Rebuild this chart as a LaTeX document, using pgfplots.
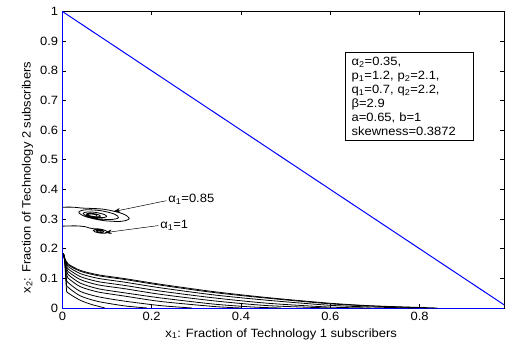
\documentclass[border=0pt]{standalone}
\usepackage{fontspec}
\setmainfont{Liberation Sans}[FakeStretch=1.08]
\usepackage{pgfplots}
\pgfplotsset{compat=1.18}
\usetikzlibrary{arrows.meta}
\begin{document}
\fontsize{12bp}{14bp}\selectfont
\begin{tikzpicture}
\useasboundingbox (-62.4bp,-37bp) rectangle (442.6bp,308bp);
\begin{axis}[
  scale only axis, width=442bp, height=296.5bp,
  xmin=0, xmax=0.99, ymin=0, ymax=1,
  xtick={0,0.2,0.4,0.6,0.8},
  ytick={0,0.1,0.2,0.3,0.4,0.5,0.6,0.7,0.8,0.9,1},
  tick align=inside, major tick length=4bp,
  tick style={black, line width=0.5bp},
  axis line style={line width=0.6bp},
  /pgf/number format/assume math mode=true,
  tick label style={font=\fontsize{12bp}{14bp}\selectfont},
  xlabel={x\textsubscript{1}: Fraction of Technology 1 subscribers},
  ylabel={x\textsubscript{2}: Fraction of Technology 2 subscribers},
  xlabel style={at={(axis description cs:0.495,-0.088)}, anchor=center},
  ylabel style={at={(axis description cs:-0.079,0.44)}, anchor=center},
  clip=false,
]
% blue boundary lines
\addplot[blue, line width=1bp] coordinates {(0,1) (0.99,0.01)};
\addplot[blue, line width=1bp] coordinates {(0,0) (0,1)};
\addplot[blue, line width=1bp] coordinates {(0,0) (0.99,0)};

% trajectories toward x2 = 0
\begin{scope}[every path/.append style={}]
\addplot[black, line width=0.8bp, smooth, tension=0.45] coordinates {(0.002,0.185) (0.005,0.170) (0.0126,0.149) (0.04,0.127) (0.08,0.112) (0.14,0.099) (0.22,0.080) (0.34,0.055) (0.46,0.035) (0.60,0.016) (0.70,0.007) (0.84,0)};
\addplot[black, line width=0.8bp, smooth, tension=0.45] coordinates {(0.002,0.185) (0.005,0.167) (0.0126,0.146) (0.04,0.124) (0.08,0.109) (0.14,0.096) (0.22,0.077) (0.34,0.052) (0.46,0.033) (0.60,0.014) (0.70,0.006) (0.82,0)};
\addplot[black, line width=0.8bp, smooth, tension=0.45] coordinates {(0.002,0.185) (0.005,0.164) (0.0095,0.150) (0.0126,0.140) (0.04,0.116) (0.08,0.100) (0.14,0.087) (0.22,0.068) (0.34,0.044) (0.46,0.026) (0.60,0.009) (0.70,0.003) (0.79,0)};
\addplot[black, line width=0.8bp, smooth, tension=0.45] coordinates {(0.002,0.185) (0.005,0.163) (0.0095,0.143) (0.0126,0.132) (0.04,0.106) (0.08,0.089) (0.14,0.076) (0.22,0.057) (0.34,0.034) (0.46,0.016) (0.60,0.003) (0.69,0)};
\addplot[black, line width=0.8bp, smooth, tension=0.45] coordinates {(0.002,0.185) (0.005,0.163) (0.009,0.135) (0.0126,0.123) (0.04,0.096) (0.08,0.078) (0.14,0.065) (0.22,0.046) (0.34,0.024) (0.46,0.008) (0.60,0)};
\addplot[black, line width=0.8bp, smooth, tension=0.45] coordinates {(0.002,0.185) (0.005,0.163) (0.009,0.125) (0.0126,0.113) (0.04,0.084) (0.08,0.065) (0.14,0.051) (0.22,0.034) (0.34,0.013) (0.43,0.003) (0.49,0)};
\addplot[black, line width=0.8bp, smooth, tension=0.45] coordinates {(0.002,0.185) (0.005,0.163) (0.009,0.113) (0.0126,0.101) (0.04,0.072) (0.08,0.054) (0.14,0.040) (0.22,0.022) (0.34,0.005) (0.40,0)};
\addplot[black, line width=0.8bp, smooth, tension=0.45] coordinates {(0.002,0.185) (0.005,0.163) (0.009,0.098) (0.0126,0.086) (0.04,0.056) (0.08,0.038) (0.14,0.023) (0.22,0.008) (0.29,0)};
\addplot[black, line width=0.8bp, smooth, tension=0.45] coordinates {(0.002,0.185) (0.005,0.163) (0.009,0.082) (0.0126,0.070) (0.04,0.041) (0.08,0.022) (0.14,0.007) (0.19,0)};
\addplot[black, line width=0.8bp, smooth, tension=0.45] coordinates {(0.002,0.185) (0.005,0.163) (0.009,0.065) (0.0126,0.051) (0.04,0.026) (0.065,0.012) (0.08,0.006) (0.095,0)};
\end{scope}

% spiral alpha1 = 0.85
\addplot[black, line width=0.8bp, smooth, tension=0.55] coordinates {
(0,0.340) (0.025,0.340) (0.045,0.337) (0.093,0.333) (0.1346,0.3182) (0.1495,0.3013) (0.1302,0.2921) (0.0894,0.2954) (0.0512,0.3085) (0.0368,0.3232) (0.0521,0.3311) (0.0858,0.3282) (0.1162,0.3169) (0.1256,0.3046) (0.1103,0.2984) (0.081,0.301) (0.0553,0.310) (0.0464,0.3194) (0.0564,0.324) (0.0765,0.322) (0.094,0.3152) (0.0989,0.3082) (0.0896,0.3047) (0.0729,0.3064) (0.0587,0.3113) (0.0537,0.3166) (0.0593,0.3192) (0.0708,0.3182) (0.0815,0.3143) (0.0851,0.310) (0.08,0.3077) (0.0696,0.3086) (0.0601,0.3118) (0.0566,0.3155) (0.0604,0.3174) (0.0684,0.3166) (0.0756,0.3139) (0.0777,0.311)};

% spiral alpha1 = 1
\addplot[black, line width=0.8bp, smooth, tension=0.55] coordinates {
(0,0.276) (0.03,0.277) (0.05,0.2745) (0.06,0.270) (0.0682,0.2677) (0.083,0.2666) (0.0964,0.2614) (0.1009,0.2554) (0.0949,0.2521) (0.083,0.253) (0.0726,0.2571) (0.0693,0.2617) (0.0741,0.2642) (0.083,0.2634) (0.0904,0.2603) (0.0927,0.2571) (0.0892,0.2554) (0.083,0.256) (0.0778,0.258) (0.0763,0.2603) (0.0787,0.2615) (0.083,0.2611) (0.0864,0.2596) (0.0872,0.2582)};

% annotations
\draw[black, line width=0.5bp, -{Stealth[length=7bp,width=4.5bp]}] (axis cs:0.233,0.362) -- (axis cs:0.114,0.325);
\node[anchor=west, inner sep=0pt] at (axis cs:0.237,0.366) {α\textsubscript{1}=0.85};
\draw[black, line width=0.5bp, -{Stealth[length=7bp,width=4.5bp]}] (axis cs:0.215,0.278) -- (axis cs:0.095,0.254);
\node[anchor=west, inner sep=0pt] at (axis cs:0.219,0.280) {α\textsubscript{1}=1};

\node[draw, line width=0.5bp, anchor=north west, inner xsep=6bp, inner ysep=5bp,
      text width=115.6bp, align=left, font=\fontsize{12bp}{14bp}\selectfont]
  at (axis cs:0.634,0.864)
  {α\textsubscript{2}=0.35,\\
   p\textsubscript{1}=1.2, p\textsubscript{2}=2.1,\\
   q\textsubscript{1}=0.7, q\textsubscript{2}=2.2,\\
   β=2.9\\
   a=0.65, b=1\\
   skewness=0.3872};
\end{axis}
\end{tikzpicture}
\end{document}
